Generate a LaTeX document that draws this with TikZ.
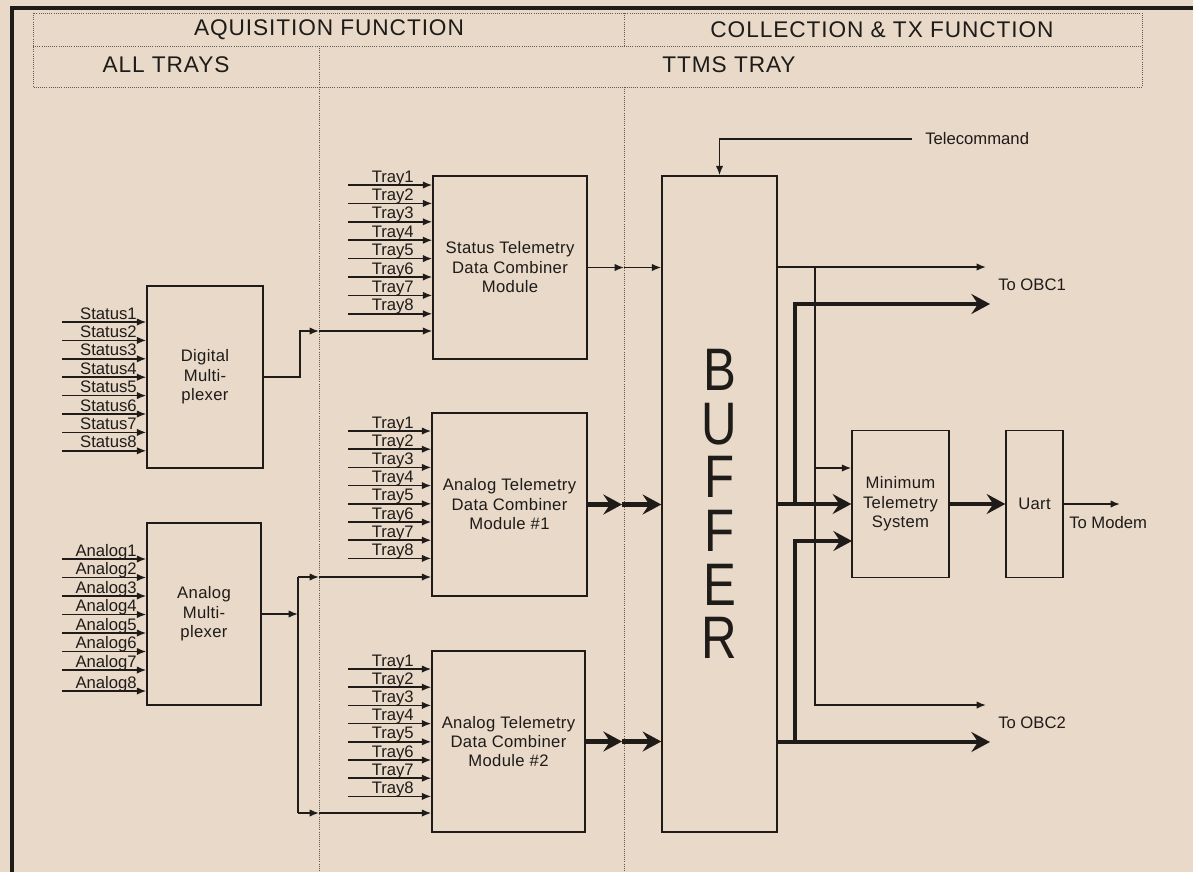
\documentclass[tikz,border=0pt]{standalone}
\usepackage{fontspec}
\setmainfont{Liberation Sans}
\newfontfamily\hdrfont[LetterSpace=4]{Liberation Sans}
\newfontfamily\boxfont[LetterSpace=2]{Liberation Sans}
\newfontfamily\buffont[FakeStretch=0.82]{Liberation Sans}
\usetikzlibrary{arrows.meta}
\definecolor{bg}{RGB}{232,217,201}
\definecolor{ink}{RGB}{30,27,24}
\definecolor{dotc}{RGB}{95,90,85}
\begin{document}
\begin{tikzpicture}[x=0.75pt,y=-0.75pt,
  box/.style={draw=ink,line width=1.1pt,inner sep=0pt,align=center,font=\boxfont\fontsize{12.5}{14.6}\selectfont,text=ink},
  conn/.style={draw=ink,line width=1.1pt,-{Latex[length=7pt,width=5.5pt]}},
  wire/.style={draw=ink,line width=1.1pt},
  fat/.style={draw=ink,line width=3.6pt,-{Stealth[length=14pt,width=15pt,inset=5pt]}},
  lab/.style={text=ink,inner sep=0pt,font=\fontsize{12.5}{14.6}\selectfont},
  hdr/.style={text=ink,inner sep=0pt,font=\hdrfont\fontsize{17}{20}\selectfont},
  sep/.style={draw=dotc,line width=0.7pt,dash pattern=on 0.7pt off 0.9pt},
]
\fill[bg] (0,0) rectangle (1193,872);
\useasboundingbox (0,0) rectangle (1193,872);

% outer border
\draw[ink,line width=3pt] (12,872) -- (12,8) -- (1193,8);

% header
\draw[sep] (33,13) rectangle (1142,87);
\draw[sep] (33,46) -- (1142,46);
\draw[sep] (624,13) -- (624,46);
\draw[sep] (319,46) -- (319,87);
\draw[sep] (319,87) -- (319,872);
\draw[sep] (624,87) -- (624,872);
\node[hdr] (h1) at (329,30) {AQUISITION FUNCTION};
\node[hdr] (h2) at (882,30) {COLLECTION \& TX FUNCTION};
\node[hdr] (h3) at (166,65) {ALL TRAYS};
\node[hdr] (h4) at (729,65) {TTMS TRAY};

% boxes
\node[box,minimum width=87pt,minimum height=136.5pt] (dmux) at (205,377) {Digital\\Multi-\\plexer};
\node[box,minimum width=85.5pt,minimum height=136.5pt] (amux) at (204,614) {Analog\\Multi-\\plexer};
\node[box,minimum width=115.5pt,minimum height=137.25pt] (stc) at (510,267.5) {Status Telemetry\\Data Combiner\\Module};
\node[box,minimum width=116.25pt,minimum height=137.25pt] (atc1) at (509.5,504.5) {Analog Telemetry\\Data Combiner\\Module \#1};
\node[box,minimum width=114.75pt,minimum height=135.75pt] (atc2) at (508.5,741.5) {Analog Telemetry\\Data Combiner\\Module \#2};
\node[box,minimum width=86.25pt,minimum height=492pt,font=\buffont\fontsize{45}{40.2}\selectfont] (buffer) at (719.5,504) {B\\U\\F\\F\\E\\R};
\node[box,minimum width=72.75pt,minimum height=110.25pt] (mts) at (900.5,504) {Minimum\\Telemetry\\System};
\node[box,minimum width=42.75pt,minimum height=110.25pt] (uart) at (1034.5,504) {Uart};

% status inputs
\foreach \i in {1,...,8}{
  \pgfmathsetmacro\yy{322+(\i-1)*18.4}
  \coordinate (sin\i) at (62,\yy);
  \draw[conn] (sin\i) -- (sin\i -| dmux.west);
  \node[lab,anchor=base east] (slab\i) at (137,\yy-3) {Status\i};
}
% analog inputs
\foreach \i/\yy in {1/559,2/577.5,3/596,4/614.5,5/633,6/651.5,7/670,8/691}{
  \coordinate (ain\i) at (62,\yy);
  \draw[conn] (ain\i) -- (ain\i -| amux.west);
  \node[lab,anchor=base east] (alab\i) at (137,\yy-3) {Analog\i};
}
% tray inputs
\foreach \i in {1,...,8}{
  \pgfmathsetmacro\ya{185+(\i-1)*18.4}
  \pgfmathsetmacro\yb{431+(\i-1)*18.2}
  \pgfmathsetmacro\yc{669+(\i-1)*18.2}
  \coordinate (ta\i) at (348,\ya);
  \coordinate (tb\i) at (348,\yb);
  \coordinate (tc\i) at (348,\yc);
  \draw[conn] (ta\i) -- (ta\i -| stc.west);
  \draw[conn] (tb\i) -- (tb\i -| atc1.west);
  \draw[conn] (tc\i) -- (tc\i -| atc2.west);
  \node[lab,anchor=base east] (tal\i) at (414,\ya-3) {Tray\i};
  \node[lab,anchor=base east] (tbl\i) at (414,\yb-3) {Tray\i};
  \node[lab,anchor=base east] (tcl\i) at (414,\yc-3) {Tray\i};
}

% digital mux -> status combiner
\coordinate (dmo) at (300,331);
\coordinate (dj) at (319,331);
\draw[conn] (dmux.east) -| (dmo) -- (dj);
\draw[conn] (dj) -- (dj -| stc.west);

% analog mux -> analog combiners
\coordinate (ajn) at (298,614);
\coordinate (a1c) at (298,577);
\coordinate (a2c) at (298,813);
\coordinate (a1j) at (319,577);
\coordinate (a2j) at (319,813);
\draw[conn] (amux.east) -- (ajn);
\draw[wire] (a1c) -- (a2c);
\draw[conn] (a1c) -- (a1j);
\draw[conn] (a1j) -- (a1j -| atc1.west);
\draw[conn] (a2c) -- (a2j);
\draw[conn] (a2j) -- (a2j -| atc2.west);

% combiners -> buffer
\coordinate (sj) at (624,267.5);
\draw[conn] (stc.east) -- (sj);
\draw[conn] (sj) -- (sj -| buffer.west);
\coordinate (t1j) at (622,504.5);
\draw[fat] (atc1.east) -- (t1j);
\draw[fat] (t1j) -- (t1j -| buffer.west);
\coordinate (t2j) at (622,741.5);
\draw[fat] (atc2.east) -- (t2j);
\draw[fat] (t2j) -- (t2j -| buffer.west);

% telecommand
\coordinate (tcs) at (912,139);
\node[lab,anchor=west] (tcm) at (925,139) {Telecommand};
\draw[conn] (tcs) -| (buffer.north);

% buffer outputs (thin)
\coordinate (bo1) at (777,267);
\coordinate (tb) at (815,267);
\coordinate (obc1t) at (986,267);
\coordinate (obc2t) at (986,705);
\coordinate (tm) at (815,468);
\draw[conn] (bo1) -- (obc1t);
\draw[conn] (tb) |- (obc2t);
\draw[conn] (tm) -- (tm -| mts.west);

% buffer outputs (thick)
\coordinate (fb1) at (795,504);
\coordinate (obc1f) at (990,304);
\coordinate (bo2) at (777,742);
\coordinate (fb2) at (795,742);
\coordinate (obc2f) at (990,742);
\coordinate (mtin) at (852,541);
\draw[fat] (buffer.east) -- (mts.west);
\draw[fat] (fb1) |- (obc1f);
\draw[fat] (bo2) -- (obc2f);
\draw[fat] (fb2) |- (mtin);
\draw[fat] (mts.east) -- (uart.west);
\coordinate (modem) at (1120,504);
\draw[conn] (uart.east) -- (modem);

\node[lab,anchor=west] (o1) at (998,285) {To OBC1};
\node[lab,anchor=west] (o2) at (998,723) {To OBC2};
\node[lab,anchor=west] (mo) at (1069,523) {To Modem};
\end{tikzpicture}
\end{document}
